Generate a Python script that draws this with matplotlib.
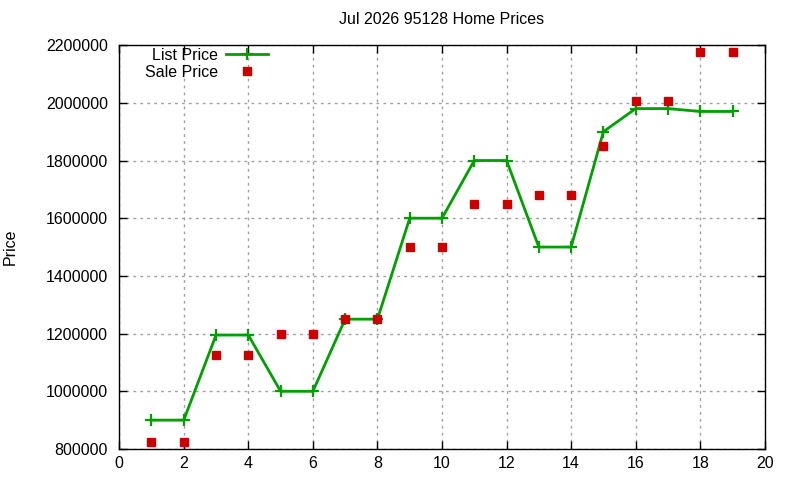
import matplotlib
matplotlib.use("Agg")
import matplotlib.pyplot as plt
from matplotlib.ticker import FuncFormatter

plt.rcParams['font.family'] = ['Liberation Sans', 'DejaVu Sans']

months = list(range(1, 20))
list_price = [900000, 900000, 1195000, 1195000, 1000000, 1000000, 1250000, 1250000,
              1600000, 1600000, 1800000, 1800000, 1500000, 1500000, 1900000,
              1980000, 1980000, 1970000, 1970000]
sale_price = [825000, 825000, 1125000, 1125000, 1200000, 1200000, 1250000, 1250000,
              1500000, 1500000, 1650000, 1650000, 1680000, 1680000, 1850000,
              2005000, 2005000, 2175000, 2175000]
title = "Jul 2026 95128 Home Prices"

FS = 11.5
fig = plt.figure(figsize=(8, 4.8), dpi=100)
ax = fig.add_axes([0.149, 0.0646, 0.807, 0.8414])

ax.plot(months, list_price, color='#00a000', lw=2, marker='+', ms=8, mew=1.6,
        label='List Price')
ax.plot(months, sale_price, color='#cc0000', lw=0, marker='s', ms=6,
        label='Sale Price')

ax.set_xlim(0, 20)
ax.set_ylim(800000, 2200000)
ax.set_xticks(range(0, 21, 2))
ax.set_yticks(range(800000, 2200001, 200000))
ax.yaxis.set_major_formatter(FuncFormatter(lambda v, p: f"{int(v)}"))
ax.tick_params(direction='in', top=True, right=True, length=6, width=1,
               labelsize=FS, colors='black')
ax.tick_params(axis='y', pad=8)
ax.tick_params(axis='x', pad=5)
ax.grid(True, color='#a0a0a0', linestyle=(0, (2, 3)), lw=1)
for s in ax.spines.values():
    s.set_linewidth(1)

fig.text(0.5 * (0.149 + 0.956), 1 - 20 / 480, title, fontsize=FS,
         ha='center', va='center')
fig.text(10.5 / 800, 1 - 247 / 480, "Price", fontsize=FS, rotation=90,
         ha='center', va='center')

leg = fig.legend(*ax.get_legend_handles_labels(), loc='upper left',
                 bbox_to_anchor=(145 / 800, 1 - 48 / 480), frameon=False,
                 markerfirst=False, fontsize=FS, handlelength=2.6,
                 borderpad=0, borderaxespad=0, labelspacing=0.1,
                 handletextpad=0.5)
for t in leg.get_texts():
    t.set_ha('right')

fig.savefig("out.png", dpi=100)
